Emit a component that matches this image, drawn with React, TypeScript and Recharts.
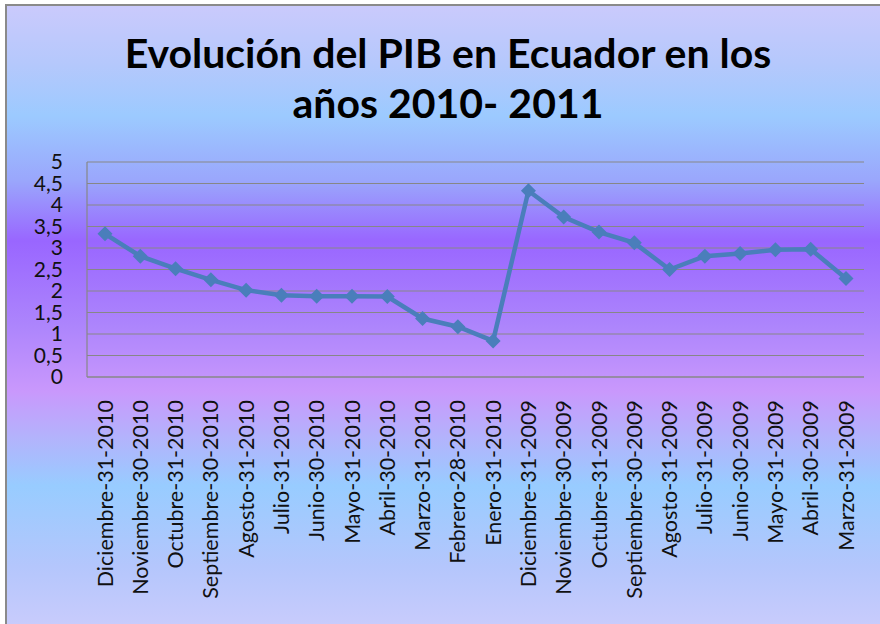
import React from "react";
import { LineChart, Line, XAxis, YAxis, CartesianGrid } from "recharts";

const fechas = [
  "Diciembre-31-2010",
  "Noviembre-30-2010",
  "Octubre-31-2010",
  "Septiembre-30-2010",
  "Agosto-31-2010",
  "Julio-31-2010",
  "Junio-30-2010",
  "Mayo-31-2010",
  "Abril-30-2010",
  "Marzo-31-2010",
  "Febrero-28-2010",
  "Enero-31-2010",
  "Diciembre-31-2009",
  "Noviembre-30-2009",
  "Octubre-31-2009",
  "Septiembre-30-2009",
  "Agosto-31-2009",
  "Julio-31-2009",
  "Junio-30-2009",
  "Mayo-31-2009",
  "Abril-30-2009",
  "Marzo-31-2009",
];

const pib = [
  3.33, 2.81, 2.52, 2.26, 2.02, 1.9, 1.88, 1.88, 1.87, 1.36, 1.17, 0.84,
  4.33, 3.72, 3.37, 3.12, 2.5, 2.81, 2.87, 2.96, 2.97, 2.29,
];

const ticksY = [0, 0.5, 1, 1.5, 2, 2.5, 3, 3.5, 4, 4.5, 5];

const data = fechas.map((f, i) => ({ fecha: f, pib: pib[i] }));

const FONT = "Lato, 'DejaVu Sans', sans-serif";

// etiqueta vertical del eje x
const EtiquetaX = (props: any) => {
  const { x, y, payload } = props;
  return (
    <text
      x={x}
      y={y}
      dy="0.35em"
      textAnchor="end"
      transform={`rotate(-90, ${x}, ${y})`}
      fontFamily={FONT}
      fontSize={21.5}
      fill="#111"
    >
      {payload.value}
    </text>
  );
};

const Rombo = (props: any) => {
  const { cx, cy } = props;
  if (cx == null || cy == null) return null;
  const r = 7.5;
  return (
    <path
      d={`M${cx},${cy - r}L${cx + r},${cy}L${cx},${cy + r}L${cx - r},${cy}Z`}
      fill="#4a7ebb"
    />
  );
};

export default function App() {
  return (
    <div
      style={{
        position: "absolute",
        left: 0,
        top: 0,
        width: 880,
        height: 624,
        overflow: "hidden",
        background: "#fff",
      }}
    >
      <div
        style={{
          position: "absolute",
          left: 5,
          top: 4,
          width: 900,
          height: 640,
          border: "2px solid #8a8a8a",
          background:
            "linear-gradient(to bottom, #cacafc 0px, #b4c8fc 60px, #9ccaff 110px, #9aa6fc 175px, #9966ff 235px, #ad85fc 320px, #c998fc 385px, #b4b2fc 430px, #98ccff 480px, #b4c6fc 560px, #caccfc 624px)",
        }}
      />
      <div
        style={{
          position: "absolute",
          left: 0,
          top: 28,
          width: 896,
          textAlign: "center",
          fontFamily: FONT,
          fontWeight: 700,
          fontSize: 41,
          lineHeight: "50px",
          color: "#000",
        }}
      >
        Evolución del PIB en Ecuador en los
        <br />
        años 2010- 2011
      </div>
      <div style={{ position: "absolute", left: 0, top: 0 }}>
        <LineChart
          width={880}
          height={624}
          data={data}
          margin={{ top: 162, right: 16, left: 0, bottom: 0 }}
        >
          <CartesianGrid vertical={false} stroke="#878787" strokeWidth={1.2} />
          <XAxis
            dataKey="fecha"
            interval={0}
            tick={<EtiquetaX />}
            tickLine={false}
            tickSize={0}
            tickMargin={23}
            axisLine={{ stroke: "#878787", strokeWidth: 1.2 }}
            padding={{ left: 18, right: 18 }}
            height={247}
          />
          <YAxis
            domain={[0, 5]}
            ticks={ticksY}
            interval={0}
            width={87}
            tickLine={false}
            tickSize={0}
            tickMargin={24}
            tickFormatter={(v: number) => String(v).replace(".", ",")}
            axisLine={{ stroke: "#878787", strokeWidth: 1.2 }}
            tick={{ fill: "#111", fontSize: 21, fontFamily: FONT }}
          />
          <Line
            type="linear"
            dataKey="pib"
            stroke="#4a7ebb"
            strokeWidth={4.5}
            dot={<Rombo />}
            activeDot={false}
            isAnimationActive={false}
          />
        </LineChart>
      </div>
    </div>
  );
}
